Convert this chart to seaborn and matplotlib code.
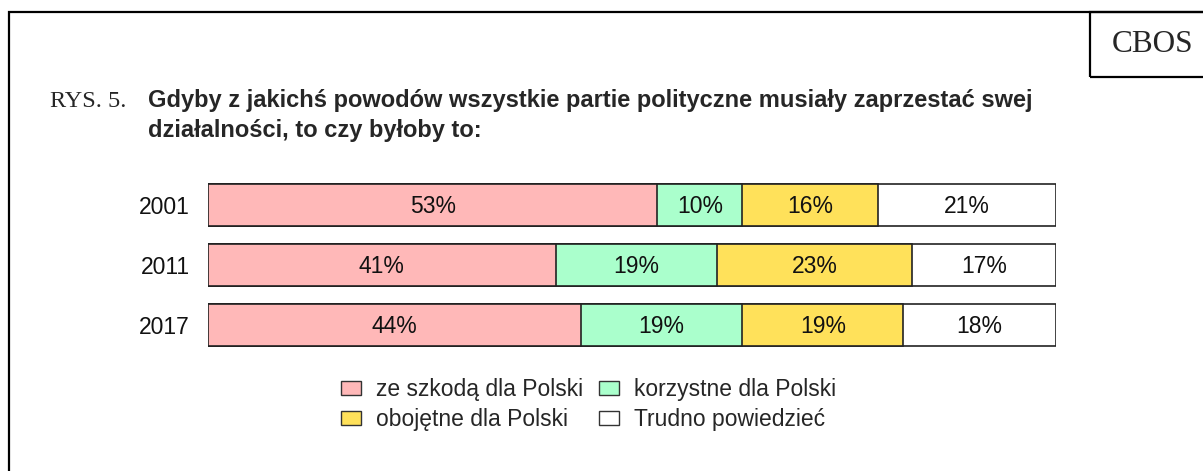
import seaborn as sns
import numpy as np
import pandas as pd
import matplotlib.pyplot as plt
from matplotlib.patches import Rectangle, Patch

years = ['2001', '2011', '2017']
szkoda = [53, 41, 44]
korzystne = [10, 19, 19]
obojetne = [16, 23, 19]
trudno = [21, 17, 18]

labels = ['ze szkodą dla Polski', 'korzystne dla Polski',
          'obojętne dla Polski', 'Trudno powiedzieć']
colors = ['#FFB8B8', '#AAFFCC', '#FFE15A', '#FFFFFF']

sns.set_style('white')
plt.rcParams['font.family'] = ['Liberation Sans', 'DejaVu Sans']

df = pd.DataFrame({'rok': years, 'szkoda': szkoda, 'korzystne': korzystne,
                   'obojetne': obojetne, 'trudno': trudno})
series = ['szkoda', 'korzystne', 'obojetne', 'trudno']
cum = df[series].cumsum(axis=1)

fig = plt.figure(figsize=(12.03, 4.71), dpi=100)
ax = fig.add_axes([0.1729, 0.2463, 0.7049, 0.3822])

# stacked bars: draw cumulative totals from the widest down
for i in range(len(series) - 1, -1, -1):
    sns.barplot(x=cum[series[i]], y=df['rok'], orient='h', color=colors[i],
                width=0.7, edgecolor='#222222', linewidth=1.2, ax=ax,
                saturation=1)

for r in range(len(years)):
    left = 0
    for s in series:
        v = df.loc[r, s]
        ax.text(left + v / 2, r + 0.02, f'{v}%', ha='center', va='center',
                fontsize=16.5, color='#111111')
        left += v

ax.set_xlim(0, 100)
ax.set_ylim(2.5, -0.5)
ax.set_xlabel('')
ax.set_ylabel('')
ax.set_xticks([])
sns.despine(ax=ax, left=True, bottom=True)
ax.tick_params(axis='y', length=0, pad=13, labelsize=16.5, labelcolor='#111111')

# legend
handles = [Patch(facecolor=c, edgecolor='#333333', linewidth=1) for c in colors]
order = [0, 2, 1, 3]
fig.legend([handles[i] for i in order], [labels[i] for i in order],
           ncol=2, loc='center', bbox_to_anchor=(0.489, 0.141), frameon=False,
           fontsize=16.5, handlelength=0.87, handleheight=0.57, handletextpad=0.65,
           columnspacing=0.7, labelspacing=0.3, borderpad=0)

# title
fig.text(50 / 1203, 1 - 107 / 471, 'RYS. 5.', family=['Liberation Serif'],
         fontsize=17.5, va='baseline', ha='left')
fig.text(148 / 1203, 1 - 107 / 471,
         'Gdyby z jakichś powodów wszystkie partie polityczne musiały zaprzestać swej',
         fontsize=17, fontweight='bold', va='baseline', ha='left')
fig.text(148 / 1203, 1 - 137 / 471, 'działalności, to czy byłoby to:',
         fontsize=17, fontweight='bold', va='baseline', ha='left')

# outer frame and CBOS box
fig.add_artist(Rectangle((9 / 1203, -0.05), 1.2, 1 - 12 / 471 + 0.05,
                         transform=fig.transFigure, fill=False,
                         edgecolor='black', linewidth=1.6))
fig.add_artist(Rectangle((1090 / 1203, 1 - 77 / 471), 0.2, 65 / 471,
                         transform=fig.transFigure, fill=False,
                         edgecolor='black', linewidth=1.6))
fig.text(1153 / 1203, 1 - 52 / 471, 'CBOS', family=['Liberation Serif'],
         fontsize=22.5, ha='center', va='baseline')

plt.savefig('out.png', dpi=100)
plt.close()
